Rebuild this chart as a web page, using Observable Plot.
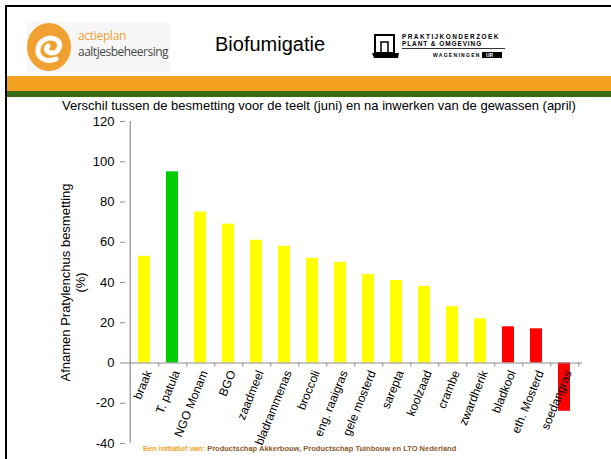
<!DOCTYPE html>
<html>
<head>
<meta charset="utf-8">
<script src="https://cdn.jsdelivr.net/npm/d3@7"></script>
<script src="https://cdn.jsdelivr.net/npm/@observablehq/plot@0.6"></script>
<style>
  body { margin: 0; background: #fff; font-family: "Liberation Sans", Arial, sans-serif; }
  #slide { position: relative; width: 611px; height: 459px; overflow: hidden; background: #fff; }
  .abs { position: absolute; white-space: nowrap; }
</style>
</head>
<body>
<div id="slide">
  <div class="abs" style="left:5px;top:5px;width:606px;height:2px;background:#000"></div>
  <div class="abs" style="left:5px;top:5px;width:2px;height:454px;background:#000"></div>
  <div class="abs" style="left:27px;top:22px;width:143px;height:50px;background:#f6f6f6"></div>
  <svg class="abs" style="left:26px;top:22px" width="48" height="52">
    <ellipse cx="23" cy="25" rx="22" ry="24" fill="#f0a132"/>
    <path d="M30 37 C 20 41, 11 36, 12 27 C 13 18, 24 13, 31 18 C 36 22, 33 31, 26 31 C 21 31, 19 27, 22 24" fill="none" stroke="#fff" stroke-width="5" stroke-linecap="round"/>
  </svg>
  <div class="abs" style="left:78px;top:29px;font-size:12px;line-height:14px;color:#f0a132;font-family:'Open Sans',sans-serif;letter-spacing:-0.3px">actieplan</div>
  <div class="abs" style="left:78px;top:45px;font-size:12px;line-height:14px;color:#4a4a4a;font-family:'Open Sans',sans-serif;letter-spacing:-0.5px">aaltjesbeheersing</div>
  <div class="abs" style="left:215px;top:33px;font-size:20px;color:#000">Biofumigatie</div>
  <svg class="abs" style="left:372px;top:30px" width="140" height="32">
    <rect x="3" y="5" width="19" height="18" fill="none" stroke="#000" stroke-width="2"/>
    <rect x="9" y="12" width="7" height="11" fill="none" stroke="#000" stroke-width="1.5"/>
    <path d="M0 23 L27 23 L26 28 L2 28 Z" fill="#000"/>
    <text x="30" y="9" font-size="6.5" font-weight="bold" letter-spacing="1.4" fill="#000">PRAKTIJKONDERZOEK</text>
    <text x="30" y="16" font-size="6.5" font-weight="bold" letter-spacing="0.9" fill="#000">PLANT &amp; OMGEVING</text>
    <line x1="30" y1="18.5" x2="133" y2="18.5" stroke="#000" stroke-width="0.8"/>
    <text x="61" y="27" font-size="5" font-weight="bold" letter-spacing="1.3" fill="#000">WAGENINGEN</text>
    <rect x="110" y="22" width="20" height="6" fill="#000"/>
    <text x="114" y="27" font-size="5" font-weight="bold" fill="#fff">UR</text>
  </svg>
  <div class="abs" style="left:7px;top:76px;width:604px;height:15px;background:#f4a021"></div>
  <div class="abs" style="left:7px;top:91px;width:604px;height:6px;background:#3b6b12"></div>
  <div class="abs" style="left:62px;top:98px;font-size:13px;color:#000">Verschil tussen de besmetting voor de teelt (juni) en na inwerken van de gewassen (april)</div>
  <div id="chart" class="abs" style="left:0;top:100px"></div>
  <div class="abs" style="left:143px;top:444px;font-size:7.5px;font-weight:bold;color:#8a5a2a"><span style="color:#f4a021">Een initiatief van:</span> Productschap Akkerbouw, Productschap Tuinbouw en LTO Nederland</div>
</div>
<script>
const names = ["braak", "T. patula", "NGO Monam", "BGO", "zaadmeel", "bladrammenas", "broccoli", "eng. raaigras", "gele mosterd", "sarepta", "koolzaad", "crambe", "zwardherik", "bladkool", "eth. Mosterd", "soedangras"];
const values = [53, 95, 75, 69, 61, 58, 52, 50, 44, 41, 38, 28, 22, 18, 17, -24];
const colors = ["#ffff00", "#00cc00", "#ffff00", "#ffff00", "#ffff00", "#ffff00", "#ffff00", "#ffff00", "#ffff00", "#ffff00", "#ffff00", "#ffff00", "#ffff00", "#ff0000", "#ff0000", "#ff0000"];
const yTicks = [-40, -20, 0, 20, 40, 60, 80, 100, 120];
const yTitle = "Afnamen Pratylenchus besmetting\n(%)";

const data = names.map((name, i) => ({name, value: values[i], color: colors[i]}));

const W = 611, H = 359, mL = 125, mR = 29, mT = 21, mB = 16;
const step = (W - mL - mR) / names.length;
const gray = "#8c8c8c";

const chart = Plot.plot({
  width: W,
  height: H,
  marginLeft: mL,
  marginRight: mR,
  marginTop: mT,
  marginBottom: mB,
  style: {fontFamily: "Liberation Sans, Arial, sans-serif", background: "transparent", overflow: "visible"},
  x: {domain: names, paddingInner: 0.58, paddingOuter: 0.29, axis: null},
  y: {domain: [-40, 120], axis: null},
  color: {type: "identity"},
  marks: [
    Plot.barY(data, {x: "name", y: "value", fill: "color"}),
    Plot.ruleY([0], {stroke: gray, strokeWidth: 1.2}),
    Plot.ruleX([names[0]], {y1: -40, y2: 120, dx: -step / 2, stroke: gray, strokeWidth: 1.2}),
    Plot.ruleX(names, {y1: 0, y2: -2, dx: step / 2, stroke: gray}),
    Plot.axisY({ticks: yTicks, tickSize: 5, tickPadding: 6, fontSize: 13, stroke: gray, fill: "#000", label: null, tickFormat: d => String(d)}),
    Plot.text(data, {x: "name", y: 0, text: "name", rotate: -68, textAnchor: "end", dx: 4, dy: 8, fontSize: 12, fill: "#000"}),
    Plot.text([yTitle], {text: d => d, frameAnchor: "left", textAnchor: "middle", lineAnchor: "middle", rotate: -90, dx: -53, fontSize: 13, lineHeight: 1.15, fill: "#000"})
  ]
});
document.getElementById("chart").appendChild(chart);
</script>
</body>
</html>
